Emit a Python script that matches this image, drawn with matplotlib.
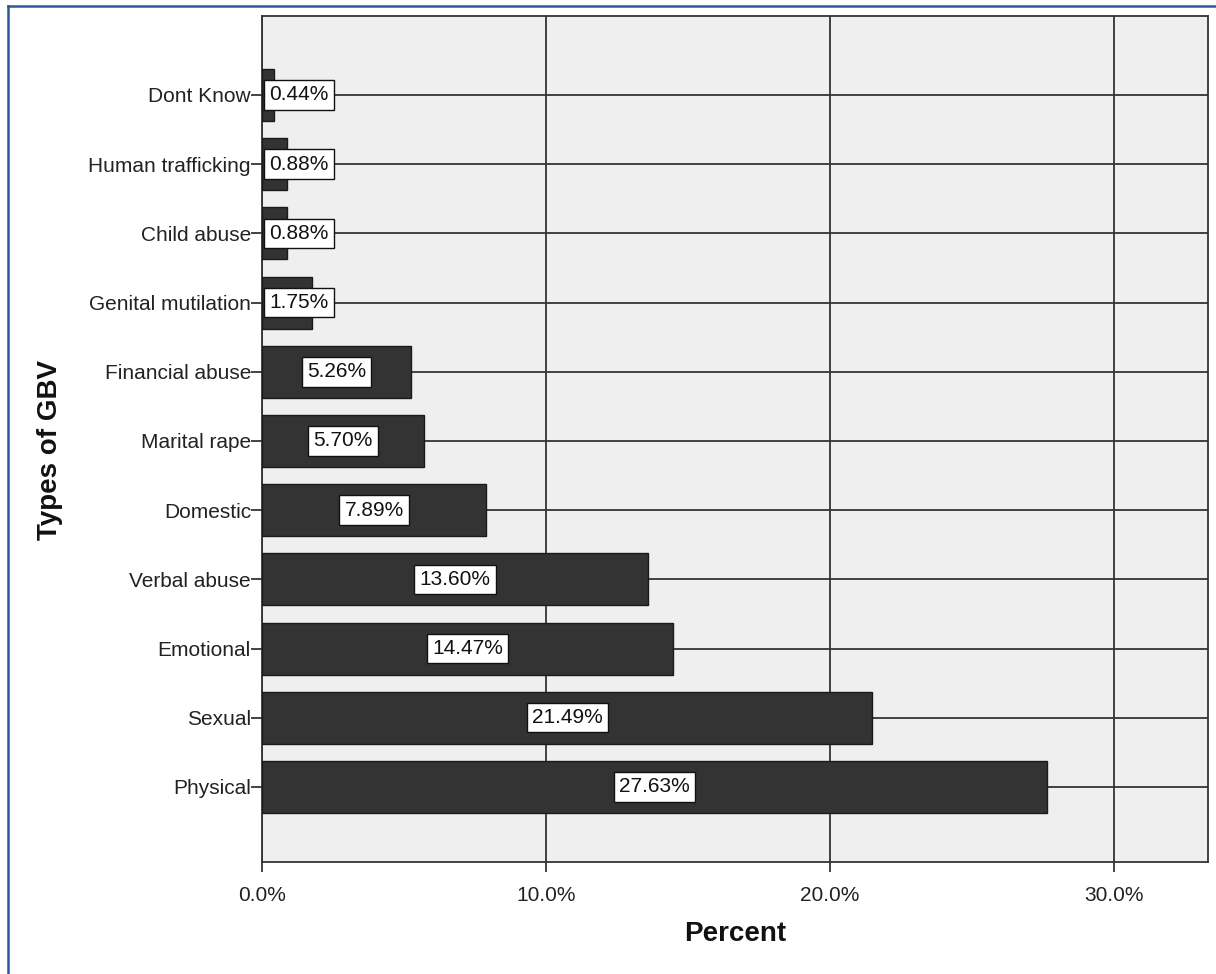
import matplotlib
matplotlib.use("Agg")
import matplotlib.pyplot as plt
from matplotlib.lines import Line2D

plt.rcParams['font.family'] = ['Liberation Sans', 'DejaVu Sans']

# GBV types listed from the bottom bar upward
categories = ["Physical", "Sexual", "Emotional", "Verbal abuse", "Domestic",
              "Marital rape", "Financial abuse", "Genital mutilation",
              "Child abuse", "Human trafficking", "Dont Know"]
percents = [27.63, 21.49, 14.47, 13.60, 7.89, 5.70, 5.26, 1.75, 0.88, 0.88, 0.44]
tick_values = [0, 10, 20, 30]
tick_labels = ["0.0%", "10.0%", "20.0%", "30.0%"]

W, H = 1216, 974
fig = plt.figure(figsize=(W / 100, H / 100), dpi=100)
fig.patch.set_facecolor("white")

ax = fig.add_axes([262 / W, 1 - 862 / H, (1208 - 262) / W, (862 - 16) / H])
ax.set_facecolor("#efefef")

ypos = list(range(len(categories)))
ax.barh(ypos, percents, height=0.75, color="#333333", edgecolor="#1a1a1a",
        linewidth=1.0, zorder=3)

ax.set_xlim(0, 33.31)
ax.set_ylim(-1.084, 10 + 79 / 69.2)

ax.set_xticks(tick_values)
ax.set_xticklabels(tick_labels)
ax.set_yticks(ypos)
ax.set_yticklabels(categories)

ax.tick_params(axis="x", direction="out", length=7, width=1.2, pad=10,
               labelsize=15, colors="#222222")
ax.tick_params(axis="y", direction="out", length=8, width=1.2, pad=0,
               labelsize=15, colors="#222222")

ax.grid(True, color="#333333", linewidth=1.3, zorder=1)
ax.set_axisbelow(True)
for s in ax.spines.values():
    s.set_color("#333333")
    s.set_linewidth(1.3)

box = dict(boxstyle="square,pad=0.25", facecolor="white", edgecolor="#111111",
           linewidth=1.0)
for y, v in zip(ypos, percents):
    label = f"{v:.2f}%"
    if v < 3:
        ax.annotate(label, xy=(0, y), xytext=(5.2, 0), textcoords="offset points",
                    ha="left", va="center", fontsize=15, color="#111111",
                    bbox=box, zorder=5)
    else:
        ax.text(v / 2, y, label, ha="center", va="center", fontsize=15,
                color="#111111", bbox=box, zorder=5)

fig.text((262 + 1208) / 2 / W, 1 - 934 / H, "Percent", ha="center", va="center",
         fontsize=20, fontweight="bold", color="#111111")
fig.text(50 / W, 1 - 450 / H, "Types of GBV", ha="center", va="center",
         rotation=90, fontsize=20, fontweight="bold", color="#111111")

# Frame lines along the top and left of the figure
fig.add_artist(Line2D([8 / W, 1], [1 - 6 / H, 1 - 6 / H], color="#2f5696",
                      linewidth=1.8, transform=fig.transFigure))
fig.add_artist(Line2D([8 / W, 8 / W], [0, 1 - 6 / H], color="#2f5696",
                      linewidth=1.8, transform=fig.transFigure))

fig.savefig("out.png", dpi=100, facecolor="white")
